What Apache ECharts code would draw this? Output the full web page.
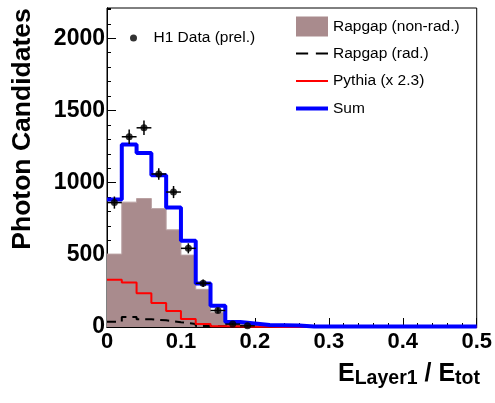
<!DOCTYPE html>
<html>
<head>
<meta charset="utf-8">
<script src="https://cdn.jsdelivr.net/npm/echarts@6/dist/echarts.min.js"></script>
<style>
  html, body { margin: 0; padding: 0; background: #fff; }
  #chart { width: 495px; height: 403px; }
</style>
</head>
<body>
<div id="chart"></div>
<script>
// Histogram binning of E_Layer1 / E_tot
const binWidth = 0.02;

// Monte Carlo histograms (25 bins, 0 .. 0.5)
const rapgapNonRad = [505, 865, 890, 820, 673, 498, 261, 100, 25, 15, 8, 6, 5, 2, 1, 1, 1, 1, 1, 1, 1, 1, 1, 1, 1];
const rapgapRad    = [37, 69, 54, 46, 33, 21, 7, 5, 3, 2, 1, 1, 1, 0, 0, 0, 0, 0, 0, 0, 0, 0, 0, 0, 0];
const pythia       = [328, 308, 233, 166, 110, 55, 21, 6, 3, 2, 1, 0, 0, 0, 0, 0, 0, 0, 0, 0, 0, 0, 0, 0, 0];
const sumMC        = [884, 1264, 1206, 1052, 828, 597, 302, 148, 35, 25, 14, 12, 10, 3, 3, 3, 3, 3, 3, 3, 3, 3, 3, 3, 3];

// H1 data points: bin centres, counts, errors
const dataX   = [0.01, 0.03, 0.05, 0.07, 0.09, 0.11, 0.13, 0.15, 0.17, 0.19];
const dataY   = [862, 1318, 1380, 1060, 935, 545, 303, 114, 20, 8];
const dataErr = [42, 50, 50, 40, 42, 35, 26, 18, 8, 5];

// Axis ticks
const xTicks = [0, 0.1, 0.2, 0.3, 0.4, 0.5];
const yTicks = [0, 500, 1000, 1500, 2000];

// Legend entries
const legendData = 'H1 Data (prel.)';
const legendNames = ['Rapgap (non-rad.)', 'Rapgap (rad.)', 'Pythia (x 2.3)', 'Sum'];

const FONT = '"Liberation Sans", Arial, Helvetica, sans-serif';
const BROWN = '#a98b8d';

// turn bin contents into a step outline [x, y] through bin edges
function stepPoints(values) {
  const pts = [];
  values.forEach((v, i) => {
    pts.push([i * binWidth, v]);
    pts.push([(i + 1) * binWidth, v]);
  });
  return pts;
}

const chart = echarts.init(document.getElementById('chart'), null, { renderer: 'canvas' });

const baseAxis = {
  axisLine: { show: true, lineStyle: { color: '#000', width: 1 } },
  splitLine: { show: false }
};

const legendText = { fontFamily: FONT, fontSize: 15.5, color: '#000' };

// legend swatches: filled box, dashed line, thin line, thick line
const legendIcons = [
  { icon: 'rect', itemStyle: { color: BROWN } },
  { icon: 'path://M0,0h11v2h-11z M18,0h11v2h-11z', itemStyle: { color: '#000' } },
  { icon: 'path://M0,0h32v2h-32z', itemStyle: { color: '#ff0000' } },
  { icon: 'path://M0,0h32v4h-32z', itemStyle: { color: '#0000ff' } }
];
const legendRowTop = [16.5, 45.5, 73, 100.5];

const option = {
  animation: false,
  backgroundColor: '#fff',
  grid: {
    left: 107, right: 16, top: 8, bottom: 76,
    show: true, borderColor: '#000', borderWidth: 1, backgroundColor: 'transparent'
  },
  xAxis: [
    Object.assign({}, baseAxis, {
      type: 'value', min: xTicks[0], max: xTicks[xTicks.length - 1], interval: 0.1,
      axisTick: { inside: true, length: 9, lineStyle: { color: '#000' } },
      axisLabel: {
        margin: 4, color: '#000', fontFamily: FONT, fontWeight: 'bold', fontSize: 22,
        formatter: v => (xTicks.some(t => Math.abs(t - v) < 1e-9) ? String(+v.toFixed(1)) : '')
      }
    }),
    Object.assign({}, baseAxis, {
      type: 'value', position: 'bottom', min: 0, max: 0.5, interval: binWidth,
      axisTick: { inside: true, length: 4, lineStyle: { color: '#000' } },
      axisLabel: { show: false }
    })
  ],
  yAxis: [
    Object.assign({}, baseAxis, {
      type: 'value', min: 0, max: 2210, interval: 500,
      axisTick: { inside: true, length: 9, lineStyle: { color: '#000' } },
      axisLabel: {
        margin: 2, showMaxLabel: false, color: '#000', fontFamily: FONT, fontWeight: 'bold', fontSize: 23,
        formatter: v => (yTicks.indexOf(v) >= 0 ? String(v) : '')
      }
    }),
    Object.assign({}, baseAxis, {
      type: 'value', position: 'left', min: 0, max: 2210, interval: 100,
      axisTick: { inside: true, length: 4, lineStyle: { color: '#000' } },
      axisLabel: { show: false }
    })
  ],
  legend: [
    {
      left: 130, top: 30, padding: 0,
      itemWidth: 30, itemHeight: 7,
      textStyle: legendText,
      selectedMode: false,
      data: [{ name: legendData, icon: 'circle' }]
    }
  ].concat(legendNames.map((name, i) => ({
    left: 296, top: legendRowTop[i], padding: 0,
    itemWidth: 32, itemHeight: 20,
    textStyle: legendText,
    selectedMode: false,
    data: [Object.assign({ name: name }, legendIcons[i])]
  }))),
  title: {
    text: '{m|E}{s|Layer1}{m| / E}{s|tot}',
    right: 15, top: 362, padding: 0,
    textStyle: {
      rich: {
        m: { fontFamily: FONT, fontWeight: 'bold', fontSize: 25, lineHeight: 27, verticalAlign: 'top', color: '#000' },
        s: { fontFamily: FONT, fontWeight: 'bold', fontSize: 19.5, lineHeight: 20, padding: [12, 0, 0, 0], verticalAlign: 'bottom', color: '#000' }
      }
    }
  },
  graphic: [
    {
      type: 'text', x: 23, y: 129, rotation: Math.PI / 2,
      style: {
        text: 'Photon Candidates', font: 'bold 26.5px ' + FONT, fill: '#000',
        align: 'center', verticalAlign: 'middle'
      }
    }
  ],
  series: [
    {
      name: legendNames[0], type: 'line', data: stepPoints(rapgapNonRad),
      symbol: 'none', color: BROWN, clip: false, z: 1,
      lineStyle: { width: 1, color: '#b9a0a2' },
      areaStyle: { color: BROWN, opacity: 1 }
    },
    {
      name: legendNames[1], type: 'line', data: stepPoints(rapgapRad),
      symbol: 'none', color: '#000', clip: false, z: 3,
      lineStyle: { width: 2, color: '#000', type: [9, 6] }
    },
    {
      name: legendNames[2], type: 'line', data: stepPoints(pythia),
      symbol: 'none', color: '#ff0000', clip: false, z: 3,
      lineStyle: { width: 2, color: '#ff0000' }
    },
    {
      name: legendNames[3], type: 'line', data: stepPoints(sumMC),
      symbol: 'none', color: '#0000ff', clip: false, z: 4,
      lineStyle: { width: 4, color: '#0000ff' }
    },
    {
      name: 'H1 Data errors', type: 'custom', z: 5,
      data: dataX.map((x, i) => [x, dataY[i], dataErr[i]]),
      renderItem: function (params, api) {
        const x = api.value(0), y = api.value(1), e = api.value(2);
        const lo = api.coord([x, Math.max(0, y - e)]);
        const hi = api.coord([x, y + e]);
        const l = api.coord([x - binWidth / 2, y]);
        const r = api.coord([x + binWidth / 2, y]);
        const st = { stroke: '#000', lineWidth: 1.5 };
        return {
          type: 'group',
          children: [
            { type: 'line', shape: { x1: lo[0], y1: lo[1], x2: hi[0], y2: hi[1] }, style: st },
            { type: 'line', shape: { x1: l[0], y1: l[1], x2: r[0], y2: r[1] }, style: st }
          ]
        };
      }
    },
    {
      name: legendData, type: 'scatter', z: 6,
      data: dataX.map((x, i) => [x, dataY[i]]),
      symbol: 'circle', symbolSize: 7, color: '#000',
      itemStyle: { color: '#000' }
    }
  ]
};

chart.setOption(option);
</script>
</body>
</html>
